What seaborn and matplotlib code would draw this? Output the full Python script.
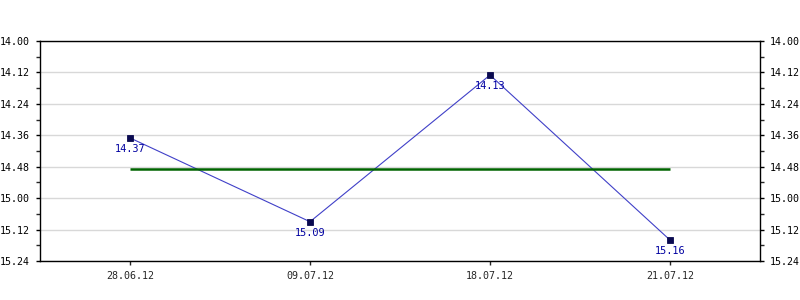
import matplotlib
matplotlib.use("Agg")
import matplotlib.pyplot as plt
import seaborn as sns
import pandas as pd
from matplotlib.ticker import FixedLocator, FuncFormatter

dates = ["28.06.12", "09.07.12", "18.07.12", "21.07.12"]
times = ["14.37", "15.09", "14.13", "15.16"]
avg_time = "14.48.75"
y_ticks = ["14.00", "14.12", "14.24", "14.36", "14.48", "15.00", "15.12", "15.24"]


def to_sec(s):
    parts = s.split(".")
    m = int(parts[0])
    sec = float(parts[1]) + (float("0." + parts[2]) if len(parts) > 2 else 0)
    return m * 60 + sec


def fmt(v, pos=None):
    v = int(round(v))
    return f"{v // 60}.{v % 60:02d}"


secs = [to_sec(t) for t in times]
avg = to_sec(avg_time)
tick_secs = [to_sec(t) for t in y_ticks]
df = pd.DataFrame({"date": dates, "sec": secs})

sns.set_style("white")
plt.rcParams["font.family"] = ["DejaVu Sans Mono", "DejaVu Sans"]

fig = plt.figure(figsize=(8, 3), dpi=100)
ax = fig.add_axes([0.05, 0.13, 0.9, 0.7333])

sns.pointplot(data=df, x="date", y="sec", ax=ax, color="#4040c8",
              markers="s", linestyles="-", linewidth=0.8, markersize=4.2,
              markerfacecolor="#0a0a50", markeredgecolor="#0a0a50")

ax.hlines(avg, 0, len(dates) - 1, color="#006400", linewidth=1.8, zorder=3)

for i, (s, t) in enumerate(zip(secs, times)):
    ax.annotate(t, (i, s), xytext=(0, -4.5), textcoords="offset points",
                ha="center", va="top", fontsize=7.4, color="#0000a0")

ax.set_xlim(-0.5, len(dates) - 0.5)
ax.set_ylim(tick_secs[-1], tick_secs[0])
ax.yaxis.set_major_locator(FixedLocator(tick_secs))
minor = [a + (b - a) / 2 for a, b in zip(tick_secs[:-1], tick_secs[1:])]
ax.yaxis.set_minor_locator(FixedLocator(minor))
ax.yaxis.set_major_formatter(FuncFormatter(fmt))
ax.grid(axis="y", which="major", color="#d8d8d8", linewidth=1)
ax.set_axisbelow(True)

ax.tick_params(axis="y", which="major", direction="out", length=3, width=1,
               left=True, right=True, labelleft=True, labelright=True,
               labelsize=7.2, colors="black", pad=4)
ax.tick_params(axis="y", which="minor", direction="out", length=3, width=1,
               left=True, right=True)
ax.tick_params(axis="x", direction="out", length=3, width=1, bottom=True,
               labelsize=7.2, pad=4)
ax.set_xlabel("")
ax.set_ylabel("")
for sp in ax.spines.values():
    sp.set_visible(True)
    sp.set_color("black")
    sp.set_linewidth(1)

fig.savefig("out.png", dpi=100)
